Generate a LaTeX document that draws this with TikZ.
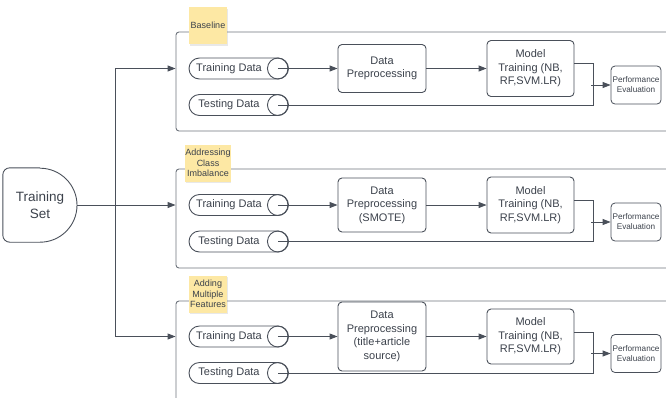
\documentclass[tikz,border=0pt]{standalone}
\usepackage{fontspec}
\setmainfont{Liberation Sans}
\usetikzlibrary{arrows.meta,shadows}
\definecolor{txt}{HTML}{3B414B}
\definecolor{ln}{HTML}{4A505A}
\definecolor{cont}{HTML}{6E747D}
\definecolor{sticky}{HTML}{FDE8A4}
\tikzset{
  every node/.style={text=txt, inner sep=0pt},
  ln/.style={draw=ln, line width=0.9pt},
  arr/.style={ln, -{Triangle[length=8pt,width=6pt]}},
  container/.style={draw=cont, line width=0.9pt, rounded corners=3pt},
  cyl/.style={draw=ln, line width=0.9pt, rounded corners=10.5pt, minimum width=99pt, minimum height=21pt, font=\fontsize{11}{13.5}\selectfont},
  procbox/.style={draw=ln, line width=0.9pt, rounded corners=4pt, minimum width=88pt, align=center, font=\fontsize{11}{13.6}\selectfont},
  pebox/.style={draw=ln, line width=0.8pt, rounded corners=4pt, minimum width=50pt, minimum height=38pt, align=center, font=\fontsize{8.2}{10}\selectfont},
  stickynote/.style={fill=sticky, minimum width=38pt, minimum height=37pt, align=center, font=\fontsize{9}{10.5}\selectfont, drop shadow={opacity=0.18, shadow xshift=0.6pt, shadow yshift=-1.6pt}},
}
\begin{document}
\begin{tikzpicture}[x=1pt,y=-1pt]
\useasboundingbox (0,0) rectangle (666,397);
\clip (0,0) rectangle (666,397);

% containers
\node[container, minimum width=524pt, minimum height=99pt] (c1) at (438,81.5) {};
\node[container, minimum width=524pt, minimum height=99pt] (c2) at (438,218.5) {};
\node[container, minimum width=524pt, minimum height=130pt] (c3) at (438,366) {};

% sticky notes
\node[stickynote] (s1) at (208,25.5) {Baseline};
\node[stickynote] (s2) at (208,163) {Addressing\\Class\\Imbalance};
\node[stickynote] (s3) at (208,294) {Adding\\Multiple\\Features};

% training set (delay shape)
\node[minimum width=74pt, minimum height=74pt, align=center, font=\fontsize{13.5}{16.7}\selectfont] (ts) at (40,205) {Training\\Set};
\draw[ln] (ts.north) [rounded corners=7pt] -- (ts.north west) -- (ts.south west) [sharp corners] -- (ts.south) arc[start angle=-90, end angle=90, radius=37pt];

% section 1
\node[cyl] (td1) at (238.5,68.5) {Training Data\hspace*{19pt}};
\node[cyl] (te1) at (238.5,105) {Testing Data\hspace*{19pt}};
\node[procbox, minimum height=48pt] (dp1) at (382,68.5) {Data\\Preprocessing};
\node[procbox, minimum width=87pt, minimum height=56pt] (mt1) at (530.5,68.5) {Model\\Training (NB,\\RF,SVM.LR)};
\node[pebox] (pe1) at (636,85) {Performance\\Evaluation};

% section 2
\node[cyl] (td2) at (238.5,205) {Training Data\hspace*{19pt}};
\node[cyl] (te2) at (238.5,241.5) {Testing Data\hspace*{19pt}};
\node[procbox, minimum height=54pt] (dp2) at (382,205) {Data\\Preprocessing\\(SMOTE)};
\node[procbox, minimum width=87pt, minimum height=56pt] (mt2) at (530.5,205) {Model\\Training (NB,\\RF,SVM.LR)};
\node[pebox] (pe2) at (636,222) {Performance\\Evaluation};

% section 3
\node[cyl] (td3) at (238.5,336.5) {Training Data\hspace*{19pt}};
\node[cyl] (te3) at (238.5,373) {Testing Data\hspace*{19pt}};
\node[procbox, minimum height=69pt] (dp3) at (382,336.5) {Data\\Preprocessing\\(title+article\\source)};
\node[procbox, minimum width=87pt, minimum height=55pt] (mt3) at (530.5,336.5) {Model\\Training (NB,\\RF,SVM.LR)};
\node[pebox] (pe3) at (636,353.5) {Performance\\Evaluation};

% cylinder end circles
\foreach \n in {td1,te1,td2,te2,td3,te3}
  \draw[ln] ([xshift=-10.5pt]\n.east) circle[radius=10.5pt];

% trunk
\coordinate (sp) at (115,205);
\draw[arr] (ts.east) -- (c2.west |- ts.east);
\draw[arr] (sp) |- (c1.west |- td1.center);
\draw[arr] (sp) |- (c3.west |- td3.center);

% flows
\foreach \i/\dy in {1/5pt,2/5pt,3/4.5pt}{
  \draw[arr] ([xshift=-10.5pt]td\i.east) -- (dp\i.west |- td\i.east);
  \draw[arr] (dp\i.east) -- (mt\i.west |- dp\i.east);
  \coordinate (j\i) at (593,0);
  \draw[ln] ([yshift=\dy]mt\i.east) -| (j\i |- te\i.east) -- ([xshift=-10.5pt]te\i.east);
  \draw[arr] ([xshift=-2pt]j\i |- pe\i.west) -- (pe\i.west);
}
\end{tikzpicture}
\end{document}
